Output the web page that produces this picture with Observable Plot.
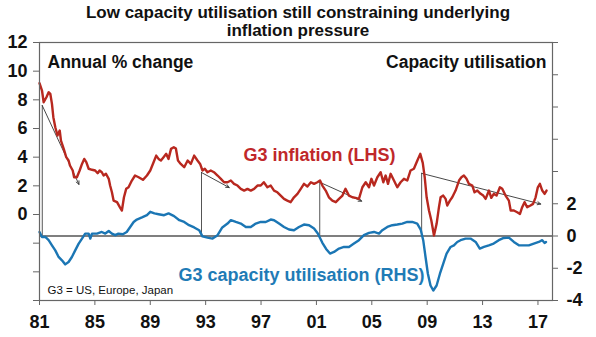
<!DOCTYPE html>
<html><head><meta charset="utf-8">
<script src="https://cdn.jsdelivr.net/npm/d3@7"></script>
<script src="https://cdn.jsdelivr.net/npm/@observablehq/plot@0.6"></script>
<style>
body{margin:0;background:#fff;font-family:"Liberation Sans",Arial,sans-serif;}
#wrap{position:relative;width:596px;height:337px;}
#title{position:absolute;top:4px;left:0;width:596px;text-align:center;font-weight:bold;font-size:17px;line-height:18px;color:#111;z-index:2;}
</style></head><body>
<div id="wrap"><div id="title">Low capacity utilisation still constraining underlying<br>inflation pressure</div><div id="chart"></div></div>
<script>
// G3 inflation, annual % change (LHS)
const inflationDates = [1981.0,1981.18,1981.3,1981.5,1981.66,1981.78,1981.9,1982.0,1982.14,1982.3,1982.46,1982.55,1982.75,1982.93,1983.1,1983.2,1983.4,1983.5,1983.7,1983.9,1984.07,1984.23,1984.38,1984.55,1984.8,1985.02,1985.2,1985.34,1985.5,1985.63,1985.8,1986.0,1986.1,1986.23,1986.35,1986.6,1986.8,1986.95,1987.1,1987.26,1987.43,1987.67,1987.9,1988.16,1988.47,1988.76,1989.0,1989.24,1989.43,1989.6,1989.77,1989.96,1990.15,1990.32,1990.5,1990.7,1990.85,1991.0,1991.2,1991.45,1991.7,1991.93,1992.17,1992.41,1992.6,1992.77,1992.94,1993.13,1993.37,1993.6,1993.86,1994.1,1994.33,1994.58,1994.82,1995.05,1995.3,1995.54,1995.78,1996.02,1996.26,1996.5,1996.74,1996.98,1997.2,1997.46,1997.7,1997.94,1998.18,1998.42,1998.66,1998.9,1999.14,1999.38,1999.63,1999.87,2000.1,2000.35,2000.6,2000.83,2001.07,2001.26,2001.43,2001.67,2001.9,2002.15,2002.4,2002.63,2002.88,2003.1,2003.35,2003.6,2003.83,2004.07,2004.32,2004.56,2004.8,2004.97,2005.16,2005.4,2005.64,2005.83,2006.0,2006.17,2006.36,2006.6,2006.84,2007.08,2007.32,2007.56,2007.8,2008.04,2008.29,2008.5,2008.68,2008.82,2008.96,2009.13,2009.3,2009.49,2009.68,2009.85,2009.97,2010.16,2010.33,2010.45,2010.64,2010.81,2011.05,2011.3,2011.47,2011.65,2011.84,2012.01,2012.26,2012.42,2012.62,2012.86,2013.05,2013.22,2013.46,2013.63,2013.81,2014.01,2014.25,2014.42,2014.66,2014.9,2015.03,2015.26,2015.5,2015.7,2015.86,2016.03,2016.22,2016.46,2016.65,2016.83,2016.99,2017.14,2017.31,2017.48,2017.62];
const inflationValues = [9.16,8.65,7.83,8.18,8.53,8.42,7.72,6.79,6.09,5.51,5.86,5.16,4.58,4.0,3.77,3.42,3.07,2.6,2.6,3.07,3.53,3.88,3.65,3.19,3.12,3.07,2.88,3.07,2.95,2.72,2.84,2.49,2.02,1.55,0.97,0.86,0.51,0.28,1.2,1.79,1.9,2.37,2.72,2.6,2.42,2.72,3.07,3.65,4.11,3.88,3.77,4.0,4.23,3.88,4.58,4.69,4.6,3.77,3.53,3.3,3.77,3.53,4.11,3.77,3.53,3.07,3.19,2.95,3.07,2.95,2.72,2.49,2.25,2.25,2.37,2.14,2.02,1.79,1.67,1.79,1.67,1.79,2.02,2.02,2.25,1.9,2.02,1.67,1.55,1.32,1.09,0.97,0.86,1.2,1.44,1.79,2.14,1.95,2.25,2.14,2.25,2.37,2.02,1.67,1.2,0.97,0.86,1.09,1.32,1.79,1.32,1.2,1.16,1.09,1.9,2.25,1.9,2.49,2.02,2.6,2.95,2.25,2.72,2.14,2.84,2.37,1.9,2.25,2.49,2.37,3.07,3.19,3.77,4.23,3.6,2.6,1.2,0.28,-0.42,-1.47,-0.65,0.51,1.2,1.32,1.09,0.63,0.97,1.2,1.67,2.37,2.6,2.72,2.49,2.14,2.02,1.55,1.67,1.44,1.32,1.09,1.67,1.16,1.44,1.32,1.9,1.79,1.32,0.97,0.28,0.28,0.16,0.04,0.51,0.86,0.51,0.63,0.74,1.2,1.9,2.14,1.67,1.44,1.67];

// G3 capacity utilisation (RHS)
const capacityDates = [1981.0,1981.18,1981.42,1981.66,1981.9,1982.14,1982.38,1982.62,1982.86,1983.1,1983.34,1983.58,1983.83,1984.07,1984.3,1984.55,1984.67,1984.79,1985.15,1985.5,1985.75,1986.0,1986.23,1986.47,1986.7,1987.02,1987.3,1987.55,1987.8,1988.03,1988.4,1988.76,1989.0,1989.3,1989.6,1990.0,1990.32,1990.72,1991.1,1991.45,1991.8,1992.17,1992.53,1992.77,1993.13,1993.5,1993.86,1994.2,1994.58,1994.82,1995.18,1995.54,1995.9,1996.26,1996.62,1996.98,1997.34,1997.7,1997.94,1998.3,1998.66,1999.02,1999.38,1999.74,2000.1,2000.47,2000.83,2001.1,2001.43,2001.7,2001.98,2002.27,2002.63,2002.99,2003.35,2003.71,2004.07,2004.43,2004.8,2005.16,2005.52,2005.76,2006.12,2006.48,2006.84,2007.2,2007.56,2007.92,2008.28,2008.53,2008.72,2008.88,2009.05,2009.24,2009.44,2009.68,2009.92,2010.16,2010.4,2010.69,2010.93,2011.17,2011.41,2011.77,2012.13,2012.5,2012.8,2013.1,2013.45,2013.8,2014.17,2014.53,2014.9,2015.26,2015.62,2015.98,2016.34,2016.7,2017.06,2017.31,2017.48,2017.58];
const capacityValues = [0.25,-0.06,-0.06,-0.26,-0.58,-0.89,-1.3,-1.51,-1.76,-1.61,-1.3,-0.89,-0.47,-0.16,0.15,0.15,-0.16,0.15,0.15,0.25,0.15,0.31,0.15,0.05,0.15,0.11,0.25,0.56,0.87,1.02,1.15,1.29,1.5,1.4,1.35,1.29,1.4,1.23,0.98,0.87,0.67,0.53,0.36,-0.02,-0.1,-0.16,0.05,0.53,0.77,0.98,0.87,0.77,0.56,0.56,0.77,0.87,0.87,1.02,0.98,0.77,0.56,0.4,0.36,0.56,0.71,0.67,0.46,0.15,-0.42,-0.8,-1.09,-0.99,-0.78,-0.68,-0.68,-0.47,-0.26,0.05,0.19,0.25,0.15,0.36,0.56,0.67,0.71,0.77,0.87,0.87,0.77,0.4,-0.3,-1.3,-2.34,-3.07,-3.38,-3.07,-2.34,-1.72,-1.09,-0.68,-0.58,-0.37,-0.26,-0.16,-0.16,-0.37,-0.78,-0.68,-0.58,-0.47,-0.26,-0.12,-0.1,-0.37,-0.58,-0.58,-0.58,-0.47,-0.37,-0.26,-0.43,-0.37];

// Disinflation trend arrows (LHS values)
const trendStartDates = [1981.2, 1992.7, 2001.24, 2008.6];
const trendStartValues = [7.6, 2.93, 2.25, 2.87];
const trendEndDates = [1983.85, 1994.7, 2004.27, 2017.2];
const trendEndValues = [2.1, 1.88, 0.93, 0.73];

const xTickYears = [1981,1985,1989,1993,1997,2001,2005,2009,2013,2017];
const leftTicks = [-6,-4,-2,0,2,4,6,8,10,12];
const leftLabelled = [0,2,4,6,8,10,12];
const rightTicks = [-4,-2,0,2,4,6,8,10,12];
const rightLabelled = [-4,-2,0,2];
const leftDomain = [-6, 12];
const rightDomain = [-4, 12];

const k = (leftDomain[1]-leftDomain[0])/(rightDomain[1]-rightDomain[0]);
const toLeft = r => leftDomain[0] + (r - rightDomain[0]) * k;
const toRight = l => rightDomain[0] + (l - leftDomain[0]) / k;
const zeroLeft = toLeft(0);

const inflation = inflationDates.map((d,i)=>({date:d, value:inflationValues[i]}));
const capacity = capacityDates.map((d,i)=>({date:d, value:toLeft(capacityValues[i])}));
const trends = trendStartDates.map((d,i)=>({x1:d, y1:trendStartValues[i], x2:trendEndDates[i], y2:trendEndValues[i]}));

const RED = "#b8281f", BLUE = "#1b76b4", AX = "#666";
const font = "'Liberation Sans', Arial, sans-serif";

const chart = Plot.plot({
  width: 596, height: 337,
  marginTop: 42, marginBottom: 37, marginLeft: 39, marginRight: 44,
  style: {fontFamily: font, background: "transparent", color: "#111"},
  x: {domain: [1981, 2018.05], label: null},
  y: {domain: leftDomain, label: null},
  marks: [
    Plot.ruleY([zeroLeft], {stroke: "#555", strokeWidth: 1.5}),
    Plot.ruleX(trends, {x: "x1", y1: "y1", y2: () => zeroLeft, stroke: "#555", strokeWidth: 1}),
    Plot.arrow(trends, {x1: "x1", y1: "y1", x2: "x2", y2: "y2", stroke: "#333", strokeWidth: 0.9, headLength: 6, headAngle: 50}),
    Plot.line(capacity, {x: "date", y: "value", stroke: BLUE, strokeWidth: 2.4}),
    Plot.line(inflation, {x: "date", y: "value", stroke: RED, strokeWidth: 2.4}),
    Plot.frame({stroke: AX, strokeWidth: 1.2}),
    Plot.axisX(xTickYears, {anchor: "bottom", tickSize: 5, tickPadding: 10, stroke: AX, fontSize: 18, fontWeight: "bold", label: null,
      tickFormat: d => String(d % 100).padStart(2, "0")}),
    Plot.axisY(leftTicks, {anchor: "left", tickSize: 6, tickPadding: 6, stroke: AX, fontSize: 18, fontWeight: "bold", label: null,
      tickFormat: d => leftLabelled.includes(d) ? String(d) : ""}),
    Plot.axisY(rightTicks.map(toLeft), {anchor: "right", tickSize: 5, tickPadding: 9, stroke: AX, fontSize: 18, fontWeight: "bold", label: null,
      tickFormat: d => { const r = Math.round(toRight(d)); return rightLabelled.includes(r) ? String(r) : ""; }}),
    Plot.text(["Annual % change"], {frameAnchor: "top-left", dx: 8, dy: 13, textAnchor: "start", fontSize: 17.5, fontWeight: "bold", fill: "#111"}),
    Plot.text(["Capacity utilisation"], {frameAnchor: "top-right", dx: -6, dy: 13, textAnchor: "end", fontSize: 17.5, fontWeight: "bold", fill: "#111"}),
    Plot.text(["G3 inflation (LHS)"], {frameAnchor: "top-left", dx: 280, dy: 106, textAnchor: "middle", fontSize: 18, fontWeight: "bold", fill: "#c0282a"}),
    Plot.text(["G3 capacity utilisation (RHS)"], {frameAnchor: "top-left", dx: 262, dy: 226, textAnchor: "middle", fontSize: 18, fontWeight: "bold", fill: "#1f7bb6"}),
    Plot.text(["G3 = US, Europe, Japan"], {frameAnchor: "top-left", dx: 8, dy: 243, textAnchor: "start", fontSize: 11.5, fill: "#111"})
  ]
});
document.getElementById("chart").appendChild(chart);
</script>
</body></html>
